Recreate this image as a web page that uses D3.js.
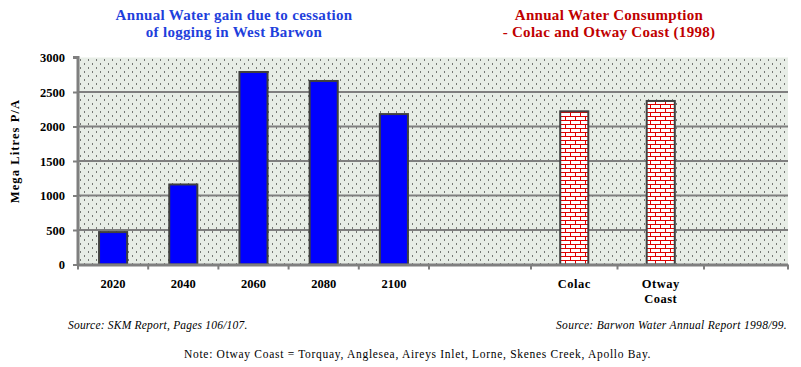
<!DOCTYPE html>
<html>
<head>
<meta charset="utf-8">
<script src="https://cdn.jsdelivr.net/npm/d3@7"></script>
<style>
  body { margin: 0; background: #fff; }
  svg text { font-family: "Liberation Serif", "DejaVu Serif", serif; }
</style>
</head>
<body>
<svg width="801" height="367"></svg>
<script>
// ---- data ----
const years       = ["2020", "2040", "2060", "2080", "2100"];
const waterGain   = [470, 1160, 2790, 2660, 2180];
const places      = ["Colac", "Otway Coast"];
const consumption = [2220, 2370];
const yTicks      = [0, 500, 1000, 1500, 2000, 2500, 3000];

const FONT = "Liberation Serif";
const svg = d3.select("svg");
const plot = {left: 78, right: 788, top: 57.5, bottom: 264.5};

// patterns
const defs = svg.append("defs");
const dots = defs.append("pattern").attr("id", "dots")
  .attr("patternUnits", "userSpaceOnUse").attr("width", 8).attr("height", 8)
  .attr("x", plot.left + 2).attr("y", plot.top + 2);
dots.append("rect").attr("width", 8).attr("height", 8).attr("fill", "#e7ede6");
[[0, 0], [4, 4]].forEach(p =>
  dots.append("rect").attr("x", p[0]).attr("y", p[1]).attr("width", 1).attr("height", 1).attr("fill", "#000"));

const brick = defs.append("pattern").attr("id", "brick")
  .attr("patternUnits", "userSpaceOnUse").attr("width", 10).attr("height", 8);
brick.append("rect").attr("width", 10).attr("height", 8).attr("fill", "#fff");
brick.append("path")
  .attr("d", "M0,0.5H10M0,4.5H10M0.5,0V4M5.5,4V8")
  .attr("stroke", "#e00000").attr("stroke-width", 1).attr("fill", "none");

// scales
const y = d3.scaleLinear().domain([0, 3000]).range([plot.bottom, plot.top]);
const xL = d3.scaleBand().domain(years).range([plot.left, 429]).padding(0);
const xR = d3.scaleBand().domain(places).range([531, 704]).padding(0);
const barW = xL.bandwidth() * 0.4;

// background
svg.append("rect")
  .attr("x", plot.left).attr("y", plot.top)
  .attr("width", plot.right - plot.left).attr("height", plot.bottom - plot.top)
  .attr("fill", "url(#dots)");

// grid lines
svg.append("g").selectAll("line").data(yTicks.slice(1, -1)).enter().append("line")
  .attr("x1", plot.left).attr("x2", plot.right)
  .attr("y1", d => y(d)).attr("y2", d => y(d))
  .attr("stroke", "#7f7f7f").attr("stroke-width", 2);

// bars - left chart
svg.append("g").selectAll("rect").data(waterGain).enter().append("rect")
  .attr("x", (d, i) => xL(years[i]) + xL.bandwidth() / 2 - barW / 2)
  .attr("y", d => y(d))
  .attr("width", barW).attr("height", d => y(0) - y(d))
  .attr("fill", "#0000ff").attr("stroke", "#404040").attr("stroke-width", 2);

// bars - right chart
svg.append("g").selectAll("rect").data(consumption).enter().append("rect")
  .attr("x", (d, i) => xR(places[i]) + xR.bandwidth() / 2 - barW / 2)
  .attr("y", d => y(d))
  .attr("width", barW).attr("height", d => y(0) - y(d))
  .attr("fill", "url(#brick)").attr("stroke", "#404040").attr("stroke-width", 2);

// y axis
const yAxis = svg.append("g").attr("transform", `translate(${plot.left},0)`)
  .call(d3.axisLeft(y).tickValues(yTicks).tickSize(5).tickPadding(8).tickFormat(d3.format("d")))
  .attr("font-family", FONT);
yAxis.select(".domain").attr("stroke", "#7f7f7f").attr("stroke-width", 3)
  .attr("d", `M-5,${plot.top}H0V${plot.bottom}`);
yAxis.selectAll(".tick line").attr("stroke", "#7f7f7f").attr("stroke-width", 2);
yAxis.selectAll(".tick text").attr("font-size", 12.5).attr("font-weight", "bold")
  .attr("fill", "#000").attr("font-family", FONT);

// x axis line + ticks
const xTicks = years.map(d => xL(d)).concat([429])
  .concat(places.map(d => xR(d))).concat([704, plot.right]);
svg.append("line").attr("x1", plot.left).attr("x2", plot.right)
  .attr("y1", plot.bottom + 0.5).attr("y2", plot.bottom + 0.5)
  .attr("stroke", "#7f7f7f").attr("stroke-width", 3);
svg.append("g").selectAll("line").data(xTicks).enter().append("line")
  .attr("x1", d => d).attr("x2", d => d)
  .attr("y1", plot.bottom).attr("y2", plot.bottom + 5)
  .attr("stroke", "#7f7f7f").attr("stroke-width", 2);

// x labels
svg.append("g").selectAll("text").data(years).enter().append("text")
  .attr("x", d => xL(d) + xL.bandwidth() / 2).attr("y", 288)
  .attr("text-anchor", "middle").attr("font-size", 12.5).attr("font-weight", "bold")
  .attr("font-family", FONT).text(d => d);
const placeLabels = svg.append("g").selectAll("text").data(places).enter().append("text")
  .attr("x", d => xR(d) + xR.bandwidth() / 2).attr("y", 288)
  .attr("text-anchor", "middle").attr("font-size", 12.5).attr("font-weight", "bold")
  .attr("letter-spacing", 0.5).attr("font-family", FONT);
placeLabels.each(function(d) {
  const t = d3.select(this);
  d.split(" ").forEach((w, i) => {
    t.append("tspan").attr("x", t.attr("x")).attr("dy", i ? 15 : 0).text(w);
  });
});

// y axis title
svg.append("text")
  .attr("transform", "translate(19,151) rotate(-90)")
  .attr("text-anchor", "middle").attr("font-size", 12.5).attr("font-weight", "bold")
  .attr("letter-spacing", 1.1).attr("font-family", FONT).text("Mega Litres P/A");

// titles
const blueTitle = ["Annual Water gain due to cessation", "of logging in West Barwon"];
const redTitle  = ["Annual Water Consumption", "- Colac and Otway Coast (1998)"];
svg.append("g").selectAll("text").data(blueTitle).enter().append("text")
  .attr("x", 234).attr("y", (d, i) => 20 + i * 17)
  .attr("text-anchor", "middle").attr("font-size", 15).attr("font-weight", "bold")
  .attr("letter-spacing", 0.3).attr("font-family", FONT).attr("fill", "#1f3fdc").text(d => d);
svg.append("g").selectAll("text").data(redTitle).enter().append("text")
  .attr("x", 609).attr("y", (d, i) => 20 + i * 17)
  .attr("text-anchor", "middle").attr("font-size", 15).attr("font-weight", "bold")
  .attr("letter-spacing", 0.3).attr("font-family", FONT).attr("fill", "#c00000").text(d => d);

// sources and note
svg.append("text").attr("x", 68).attr("y", 329)
  .attr("font-size", 11.5).attr("font-style", "italic").attr("font-family", FONT)
  .attr("letter-spacing", 0.2).text("Source:  SKM Report, Pages 106/107.");
svg.append("text").attr("x", 787).attr("y", 329).attr("text-anchor", "end")
  .attr("font-size", 11.5).attr("font-style", "italic").attr("font-family", FONT)
  .attr("letter-spacing", 0.3).text("Source:  Barwon Water Annual Report 1998/99.");
svg.append("text").attr("x", 184).attr("y", 358)
  .attr("font-size", 11.5).attr("font-family", FONT).attr("letter-spacing", 0.7)
  .text("Note:  Otway Coast = Torquay, Anglesea, Aireys Inlet, Lorne, Skenes Creek, Apollo Bay.");
</script>
</body>
</html>
